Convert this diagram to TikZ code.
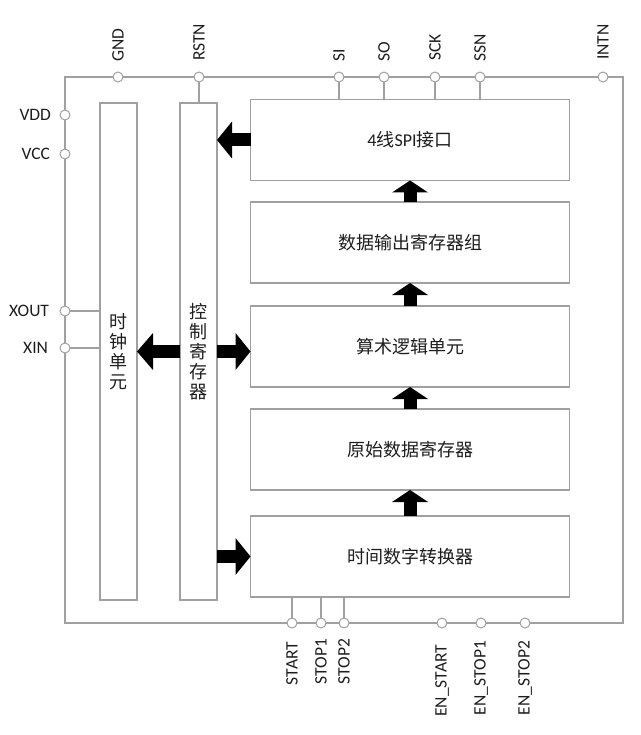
\documentclass[tikz,border=0pt]{standalone}
\usepackage{fontspec}
\setmainfont{Carlito}
\newfontfamily\cjk{Noto Sans CJK SC}
\usetikzlibrary{arrows.meta}
\definecolor{linegray}{RGB}{160,160,160}
\definecolor{txt}{RGB}{30,30,30}
\begin{document}
\begin{tikzpicture}[x=1pt,y=-1pt,
  every node/.style={inner sep=0pt, outer sep=0pt, text=txt},
  blk/.style={draw=linegray, line width=1.1pt, fill=white, minimum width=319pt, minimum height=81pt, font=\fontsize{18}{20}\selectfont},
  col/.style={draw=linegray, line width=1.1pt, fill=white, minimum width=37pt, minimum height=497pt, align=center, font=\fontsize{18}{20}\selectfont\cjk},
  pin/.style={circle, draw=linegray, line width=1pt, fill=white, minimum size=10pt},
  wire/.style={draw=linegray, line width=1.1pt},
  plbl/.style={font=\fontsize{17.5}{19}\selectfont},
  harrow/.style={line width=13pt, black, -{Triangle[length=15pt, width=37pt, line width=0pt]}},
  varrow/.style={line width=13pt, black, -{Triangle[length=12pt, width=36pt, line width=0pt]}},
]
\useasboundingbox (0,0) rectangle (640,735);
% outer frame
\draw[wire] (65,77) rectangle (623,623);

% columns
\node[col] (clk) at (118.5,351.5) {时\\钟\\单\\元};
\node[col] (ctrl) at (198.5,351.5) {控\\制\\寄\\存\\器};

% blocks
\node[blk] (spi) at (410,140) {4{\cjk 线}SPI{\cjk 接口}};
\node[blk] (dout) at (410,242.5) {\cjk 数据输出寄存器组};
\node[blk] (alu) at (410,346.5) {\cjk 算术逻辑单元};
\node[blk] (raw) at (410,449.5) {\cjk 原始数据寄存器};
\node[blk] (tdc) at (410,556.5) {\cjk 时间数字转换器};

% top pins
\node[pin] (gnd) at (118,77) {};
\node[pin] (rst) at (199,77) {};
\node[pin] (si) at (339,77) {};
\node[pin] (so) at (384,77) {};
\node[pin] (sck) at (435,77) {};
\node[pin] (ssn) at (480,77) {};
\node[pin] (intn) at (603,77) {};
\node[plbl, rotate=90, anchor=west] (gndl) at (118,62) {GND};
\node[plbl, rotate=90, anchor=west] (rstl) at (199,61) {RSTN};
\node[plbl, rotate=90, anchor=west] (sil) at (339,62) {SI};
\node[plbl, rotate=90, anchor=west] (sol) at (384,62) {SO};
\node[plbl, rotate=90, anchor=west] (sckl) at (435,61) {SCK};
\node[plbl, rotate=90, anchor=west] (ssnl) at (480,62) {SSN};
\node[plbl, rotate=90, anchor=west] (intnl) at (603,60) {INTN};

% left pins
\node[pin] (vdd) at (65,115) {};
\node[pin] (vcc) at (65,154) {};
\node[pin] (xout) at (65,311) {};
\node[pin] (xin) at (65,348) {};
\node[plbl, anchor=east] (vddl) at (51,115) {VDD};
\node[plbl, anchor=east] (vccl) at (50,154) {VCC};
\node[plbl, anchor=east] (xoutl) at (49,311) {XOUT};
\node[plbl, anchor=east] (xinl) at (48,348) {XIN};

% bottom pins
\node[pin] (start) at (292,623) {};
\node[pin] (stop1) at (321,623) {};
\node[pin] (stop2) at (344,623) {};
\node[pin] (enstart) at (442,623) {};
\node[pin] (enstop1) at (481,623) {};
\node[pin] (enstop2) at (525,623) {};
\node[plbl, rotate=90, anchor=east] (startl) at (292,642) {START};
\node[plbl, rotate=90, anchor=east] (stop1l) at (321,639) {STOP1};
\node[plbl, rotate=90, anchor=east] (stop2l) at (344,639) {STOP2};
\node[plbl, rotate=90, anchor=east] (enstartl) at (442,645) {EN\_START};
\node[plbl, rotate=90, anchor=east] (enstop1l) at (481,641) {EN\_STOP1};
\node[plbl, rotate=90, anchor=east] (enstop2l) at (525,641) {EN\_STOP2};

% wires
\draw[wire] (rst.south) -- (rst.south |- ctrl.north);
\draw[wire] (si.south) -- (si.south |- spi.north);
\draw[wire] (so.south) -- (so.south |- spi.north);
\draw[wire] (sck.south) -- (sck.south |- spi.north);
\draw[wire] (ssn.south) -- (ssn.south |- spi.north);
\draw[wire] (xout.east) -- (xout.east -| clk.west);
\draw[wire] (xin.east) -- (xin.east -| clk.west);
\draw[wire] (start.north) -- (start.north |- tdc.south);
\draw[wire] (stop1.north) -- (stop1.north |- tdc.south);
\draw[wire] (stop2.north) -- (stop2.north |- tdc.south);

% block arrows
\draw[harrow] (spi.west) -- (spi.west -| ctrl.east);
\draw[line width=13pt, black, -{Triangle[length=16pt, width=37pt, line width=0pt]}] (ctrl.west) -- (clk.east);
\draw[harrow] (ctrl.east) -- (ctrl.east -| alu.west);
\draw[harrow] (ctrl.east |- tdc.west) -- (tdc.west);
\draw[varrow] (dout.north) -- (spi.south);
\draw[varrow] (alu.north) -- (dout.south);
\draw[varrow] (raw.north) -- (alu.south);
\draw[varrow] (tdc.north) -- (raw.south);
\end{tikzpicture}
\end{document}
